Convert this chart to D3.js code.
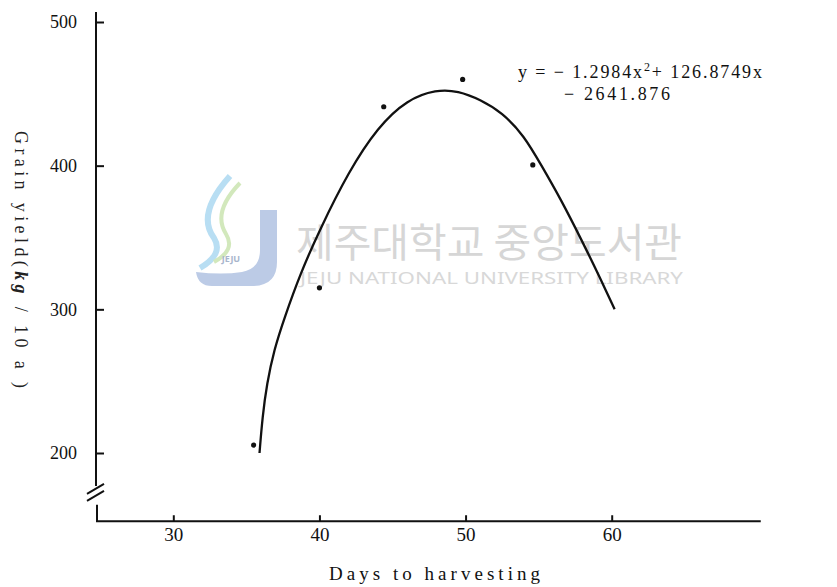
<!DOCTYPE html>
<html>
<head>
<meta charset="utf-8">
<script src="https://cdn.jsdelivr.net/npm/d3@7"></script>
<style>
  body { margin: 0; background: #fff; }
  svg { display: block; }
</style>
</head>
<body>
<script>
// observed points (days, yield)
var days = [35.5, 40, 44.4, 49.8, 54.6];
var yields = [205.5, 315, 441, 460, 400.5];

// fitted curve
var curveDays = [35.9, 36.1, 36.4, 36.9, 37.6, 38.7, 40, 42, 44, 46, 48, 49.5, 51, 52.5, 54, 55.2, 56.5, 58, 59.2, 60.2];
var curveYields = [200, 225, 248, 272, 294, 325, 355, 396, 427, 446, 453, 452, 446, 437, 421, 400, 377, 347, 322, 300];

var xTicks = [30, 40, 50, 60];
var yTicks = [200, 300, 400, 500];
var eqLine1 = ["y = − 1.2984x", "2", "+ 126.8749x"];
var eqLine2 = "− 2641.876";

var w = 837, h = 587;
var serif = "'Liberation Serif', 'DejaVu Serif', serif";

var svg = d3.select("body").append("svg")
    .attr("width", w)
    .attr("height", h);

var x = d3.scaleLinear().domain([30, 60]).range([173.3, 611.7]);
var y = d3.scaleLinear().domain([200, 500]).range([453, 22]);

// watermark (library logo + name)
var wm = svg.append("g");
wm.append("path")
    .attr("d", "M260,210 H277 V262 Q277,286 252,286 H212 Q198,286 196,272 Q222,275 242,272 Q260,269 260,250 Z")
    .attr("fill", "#bccbe6");
wm.append("path")
    .attr("d", "M230,176 Q196,214 214,238 Q224,254 200,268")
    .attr("fill", "none").attr("stroke", "#b8def3").attr("stroke-width", 6);
wm.append("path")
    .attr("d", "M240,183 Q212,212 226,234 Q236,250 214,262")
    .attr("fill", "none").attr("stroke", "#d2e8bc").attr("stroke-width", 4);
wm.append("text")
    .attr("x", 231).attr("y", 262)
    .attr("text-anchor", "middle")
    .attr("font-family", "'Noto Sans', sans-serif")
    .attr("font-size", 9).attr("font-weight", "bold")
    .attr("fill", "#a8b6cc")
    .text("JEJU");
wm.append("text")
    .attr("x", 296).attr("y", 257)
    .attr("font-family", "'Noto Sans CJK KR', sans-serif")
    .attr("font-size", 40)
    .attr("textLength", 386).attr("lengthAdjust", "spacingAndGlyphs")
    .attr("fill", "#d6d6d6")
    .text("제주대학교 중앙도서관");
wm.append("text")
    .attr("x", 300).attr("y", 284)
    .attr("font-family", "'Noto Sans', sans-serif")
    .attr("font-size", 16)
    .attr("textLength", 383).attr("lengthAdjust", "spacingAndGlyphs")
    .attr("fill", "#d8d8d8")
    .text("JEJU NATIONAL UNIVERSITY LIBRARY");

// axis lines, with a break near the bottom of y
var axisX = 96;
var baseY = y(152.5);
var axisPath = svg.append("g")
    .attr("stroke", "#111")
    .attr("stroke-width", 2)
    .attr("fill", "none");
axisPath.append("line")
    .attr("x1", axisX).attr("x2", axisX)
    .attr("y1", y(507)).attr("y2", y(177));
axisPath.append("polyline")
    .attr("points", [[axisX + 1, y(164)], [axisX + 1, baseY], [x(70.2), baseY]].join(" "));
axisPath.append("line")
    .attr("x1", axisX - 9).attr("y1", y(173) + 2)
    .attr("x2", axisX + 8).attr("y2", y(173) - 8);
axisPath.append("line")
    .attr("x1", axisX - 9).attr("y1", y(168) + 2)
    .attr("x2", axisX + 8).attr("y2", y(168) - 8);

// y axis ticks (pointing inward)
var yAxis = d3.axisLeft(y)
    .tickValues(yTicks)
    .tickSizeInner(-8)
    .tickSizeOuter(0)
    .tickPadding(19);
var gy = svg.append("g")
    .attr("transform", "translate(" + axisX + ",0)")
    .call(yAxis);
gy.select(".domain").remove();
gy.selectAll(".tick line").attr("stroke", "#111").attr("stroke-width", 2);
gy.selectAll(".tick text")
    .attr("font-family", serif)
    .attr("font-size", 18)
    .attr("fill", "#111");

// x axis ticks (pointing up)
var xAxis = d3.axisBottom(x)
    .tickValues(xTicks)
    .tickSizeInner(-6)
    .tickSizeOuter(0)
    .tickPadding(6);
var gx = svg.append("g")
    .attr("transform", "translate(0," + baseY + ")")
    .call(xAxis);
gx.select(".domain").remove();
gx.selectAll(".tick line").attr("stroke", "#111").attr("stroke-width", 2);
gx.selectAll(".tick text")
    .attr("font-family", serif)
    .attr("font-size", 19)
    .attr("fill", "#111");

// axis titles
svg.append("text")
    .attr("x", 329).attr("y", 580)
    .attr("font-family", serif)
    .attr("font-size", 19)
    .attr("textLength", 211).attr("lengthAdjust", "spacing")
    .attr("fill", "#111")
    .text("Days to harvesting");

var yt = svg.append("text")
    .attr("transform", "translate(15,131) rotate(90)")
    .attr("font-family", serif)
    .attr("font-size", 18)
    .attr("textLength", 257).attr("lengthAdjust", "spacing")
    .attr("fill", "#222");
yt.append("tspan").text("Grain yield(");
yt.append("tspan").attr("font-style", "italic").attr("font-weight", "bold").text("kg");
yt.append("tspan").text(" / 10 a )");

// fitted curve
var line = d3.line()
    .x(function (d) { return x(d[0]); })
    .y(function (d) { return y(d[1]); })
    .curve(d3.curveBasis);
svg.append("path")
    .datum(d3.zip(curveDays, curveYields))
    .attr("d", line)
    .attr("fill", "none")
    .attr("stroke", "#111")
    .attr("stroke-width", 2.3);

// observed points
svg.selectAll("circle.obs")
    .data(d3.zip(days, yields))
    .enter()
    .append("circle")
    .attr("class", "obs")
    .attr("cx", function (d) { return x(d[0]); })
    .attr("cy", function (d) { return y(d[1]); })
    .attr("r", 2.6)
    .attr("fill", "#111");

// regression equation
var eq = svg.append("text")
    .attr("x", 518).attr("y", 78)
    .attr("font-family", serif)
    .attr("font-size", 18)
    .attr("textLength", 244).attr("lengthAdjust", "spacing")
    .attr("fill", "#111");
eq.append("tspan").text(eqLine1[0]);
eq.append("tspan").attr("dy", -7).attr("font-size", 12).text(eqLine1[1]);
eq.append("tspan").attr("dy", 7).text(eqLine1[2]);

svg.append("text")
    .attr("x", 564).attr("y", 100)
    .attr("font-family", serif)
    .attr("font-size", 18)
    .attr("textLength", 106).attr("lengthAdjust", "spacing")
    .attr("fill", "#111")
    .text(eqLine2);
</script>
</body>
</html>
